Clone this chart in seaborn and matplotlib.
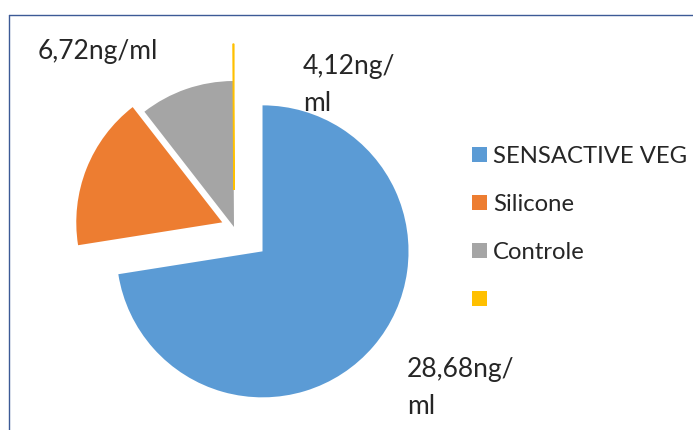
import numpy as np
import matplotlib
matplotlib.use("Agg")
import matplotlib.pyplot as plt
from matplotlib.patches import Patch
import seaborn as sns

# Data
categories = ["SENSACTIVE VEG", "Silicone", "Controle", ""]
values = [28.68, 6.72, 4.12, 0.04]
colors = ["#5B9BD5", "#ED7D31", "#A5A5A5", "#FFC000"]
explode = [37.5, 12.6, 0.0, 37.0]  # matplotlib uses data units here

sns.set_theme(style="white")
plt.rcParams["font.family"] = ["Lato", "DejaVu Sans"]

W, H = 693, 430
fig = plt.figure(figsize=(W / 100, H / 100), dpi=100)
ax = fig.add_axes([0, 0, 1, 1])

wedges, _ = ax.pie(
    values,
    colors=colors,
    explode=explode,
    startangle=90,
    counterclock=False,
    center=(234, H - 227),
    radius=146,
    wedgeprops=dict(linewidth=0),
    frame=True,
)
# the near-zero slice shows as a thin line
wedges[3].set_edgecolor(colors[3])
wedges[3].set_linewidth(1.0)

ax.set_xlim(0, W)
ax.set_ylim(0, H)
ax.set_aspect("equal")
ax.axis("off")

# Data labels
def fmt(v):
    return f"{v:.2f}".replace(".", ",") + "ng/"

fs = 19
ax.text(38, H - 59, fmt(values[1]) + "ml", fontsize=fs, ha="left", va="baseline")
ax.text(303, H - 111, fmt(values[2]) + "\nml", fontsize=fs, ha="left", va="baseline",
        linespacing=1.62)
ax.text(407, H - 414, fmt(values[0]) + "\nml", fontsize=fs, ha="left", va="baseline",
        linespacing=1.62)

# Legend
lfs = 17.2
handles = [Patch(facecolor=c, edgecolor="none") for c in colors]
ax.legend(handles, categories, loc="upper left", bbox_to_anchor=(472, H - 146),
          bbox_transform=ax.transData, frameon=False, fontsize=lfs,
          borderpad=0, borderaxespad=0, handlelength=0.63, handleheight=0.63,
          handletextpad=0.25, labelspacing=1.13)

# Chart border
border = "#3C5A96"
fig.add_artist(plt.Line2D([9 / W, 1.0], [1 - 15 / H, 1 - 15 / H],
                          transform=fig.transFigure, color=border, lw=1.0))
fig.add_artist(plt.Line2D([9 / W, 9 / W], [0.0, 1 - 15 / H],
                          transform=fig.transFigure, color=border, lw=1.0))

fig.savefig("out.png", dpi=100)
